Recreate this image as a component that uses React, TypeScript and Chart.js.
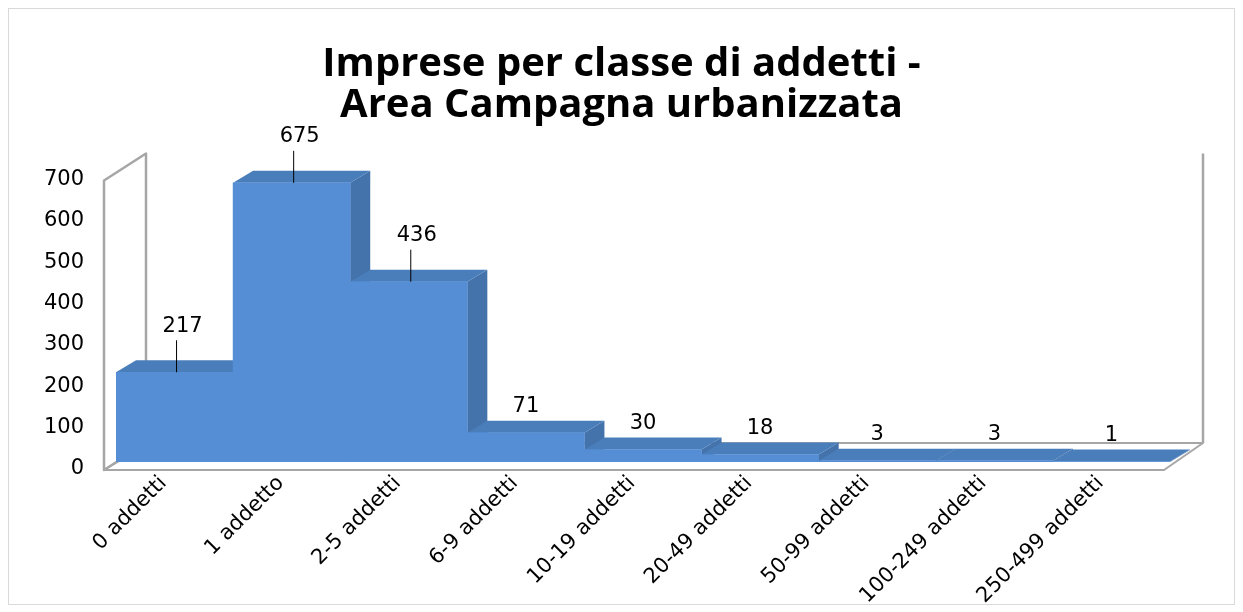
import React, { useEffect, useRef } from "react";
import { Chart, registerables } from "chart.js";

Chart.register(...registerables);

const categories = [
  "0 addetti",
  "1 addetto",
  "2-5 addetti",
  "6-9 addetti",
  "10-19 addetti",
  "20-49 addetti",
  "50-99 addetti",
  "100-249 addetti",
  "250-499 addetti",
];
const imprese = [217, 675, 436, 71, 30, 18, 3, 3, 1];
const yMin = 0;
const yMax = 700;
const yStep = 100;
const titleLines = ["Imprese per classe di addetti -", "Area Campagna urbanizzata"];

const FRONT_COLOR = "#558ED5";
const TOP_COLOR = "#4A7EBB";
const SIDE_COLOR = "#4472AA";
const WALL_LINE = "#a6a6a6";
const BAR_DEPTH = { x: 20, y: -12 };
const FRONT_OFF = { x: -12, y: 8 };
const BACK_OFF = { x: 33, y: -19 };
const LEADER_MIN = 100;
const TEXT_FONT = "DejaVu Sans";

function poly(ctx: CanvasRenderingContext2D, pts: number[][], fill: string | null, stroke: string | null, lw = 1) {
  ctx.beginPath();
  ctx.moveTo(pts[0][0], pts[0][1]);
  for (let i = 1; i < pts.length; i++) ctx.lineTo(pts[i][0], pts[i][1]);
  ctx.closePath();
  if (fill) {
    ctx.fillStyle = fill;
    ctx.fill();
  }
  if (stroke) {
    ctx.strokeStyle = stroke;
    ctx.lineWidth = lw;
    ctx.stroke();
  }
}

const threeD = {
  id: "threeD",
  beforeDatasetsDraw(chart: any) {
    const { ctx, chartArea: a, scales } = chart;
    const ys = scales.y;
    const topY = ys.getPixelForValue(yMax);
    const botY = ys.getPixelForValue(yMin);
    ctx.save();
    ctx.lineJoin = "round";
    // right edge of back wall
    ctx.beginPath();
    ctx.moveTo(a.right + BACK_OFF.x, topY + BACK_OFF.y);
    ctx.lineTo(a.right + BACK_OFF.x, botY + BACK_OFF.y);
    ctx.strokeStyle = WALL_LINE;
    ctx.lineWidth = 2.5;
    ctx.stroke();
    // floor
    poly(
      ctx,
      [
        [a.left + FRONT_OFF.x, botY + FRONT_OFF.y],
        [a.right + FRONT_OFF.x + 6, botY + FRONT_OFF.y],
        [a.right + BACK_OFF.x, botY + BACK_OFF.y],
        [a.left + BACK_OFF.x, botY + BACK_OFF.y],
      ],
      "#ffffff",
      WALL_LINE,
      2
    );
    // left wall
    poly(
      ctx,
      [
        [a.left + FRONT_OFF.x, botY + FRONT_OFF.y],
        [a.left + FRONT_OFF.x, topY + FRONT_OFF.y],
        [a.left + BACK_OFF.x - 3, topY + BACK_OFF.y],
        [a.left + BACK_OFF.x - 3, botY + BACK_OFF.y],
      ],
      "#ffffff",
      WALL_LINE,
      2.5
    );
    // bar top and side faces
    const meta = chart.getDatasetMeta(0);
    meta.data.forEach((bar: any) => {
      const p = bar.getProps(["x", "y", "base", "width"], true);
      const x0 = p.x - p.width / 2;
      const x1 = p.x + p.width / 2;
      poly(
        ctx,
        [
          [x1, p.y],
          [x1 + BAR_DEPTH.x, p.y + BAR_DEPTH.y],
          [x1 + BAR_DEPTH.x, p.base + BAR_DEPTH.y],
          [x1, p.base],
        ],
        SIDE_COLOR,
        null
      );
      poly(
        ctx,
        [
          [x0, p.y],
          [x1, p.y],
          [x1 + BAR_DEPTH.x, p.y + BAR_DEPTH.y],
          [x0 + BAR_DEPTH.x, p.y + BAR_DEPTH.y],
        ],
        TOP_COLOR,
        null
      );
    });
    ctx.restore();
  },
  afterDatasetsDraw(chart: any) {
    const { ctx } = chart;
    const meta = chart.getDatasetMeta(0);
    ctx.save();
    ctx.font = `21px "${TEXT_FONT}"`;
    ctx.fillStyle = "#000";
    ctx.textAlign = "center";
    ctx.textBaseline = "middle";
    meta.data.forEach((bar: any, i: number) => {
      const p = bar.getProps(["x", "y"], true);
      const v = imprese[i];
      if (v > LEADER_MIN) {
        ctx.beginPath();
        ctx.moveTo(p.x + 2, p.y);
        ctx.lineTo(p.x + 2, p.y - 32);
        ctx.strokeStyle = "#000";
        ctx.lineWidth = 1;
        ctx.stroke();
        ctx.fillText(String(v), p.x + 8, p.y - 46);
      } else {
        ctx.fillText(String(v), p.x, p.y - 26);
      }
    });
    ctx.restore();
  },
};

export default function App() {
  const ref = useRef<HTMLCanvasElement | null>(null);
  useEffect(() => {
    if (!ref.current) return;
    const chart = new Chart(ref.current, {
      type: "bar",
      data: {
        labels: categories,
        datasets: [
          {
            label: "Imprese",
            data: imprese,
            backgroundColor: FRONT_COLOR,
            borderWidth: 0,
            barPercentage: 1,
            categoryPercentage: 1,
          },
        ],
      },
      options: {
        responsive: false,
        animation: false,
        layout: { padding: 0 },
        plugins: {
          legend: { display: false },
          tooltip: { enabled: false },
          title: {
            display: true,
            text: titleLines,
            color: "#000",
            font: { family: "Open Sans", size: 40, weight: "bold", lineHeight: 1.025 },
            padding: { top: 35.5, bottom: 46 },
          },
        },
        scales: {
          x: {
            grid: { display: false, drawTicks: false },
            border: { display: false },
            ticks: {
              autoSkip: false,
              maxRotation: 45,
              minRotation: 45,
              padding: 9,
              labelOffset: -11,
              color: "#000",
              font: { family: TEXT_FONT, size: 21 },
            },
            afterFit(s: any) {
              s.height = 142;
            },
          },
          y: {
            min: yMin,
            max: yMax,
            grid: { display: false, drawTicks: false },
            border: { display: false },
            ticks: {
              stepSize: yStep,
              padding: 32,
              labelOffset: 7,
              color: "#000",
              font: { family: TEXT_FONT, size: 21 },
            },
            afterFit(s: any) {
              s.width = 107;
            },
          },
          yR: {
            type: "linear",
            position: "right",
            display: true,
            grid: { display: false, drawTicks: false },
            border: { display: false },
            ticks: { display: false },
            afterFit(s: any) {
              s.width = 64;
            },
          },
        },
      } as any,
      plugins: [threeD],
    });
    return () => chart.destroy();
  }, []);
  return (
    <div
      style={{
        width: 1227,
        height: 597,
        border: "1px solid #d9d9d9",
        boxSizing: "border-box",
        background: "#fff",
      }}
    >
      <canvas ref={ref} width={1225} height={595} style={{ display: "block" }} />
    </div>
  );
}
